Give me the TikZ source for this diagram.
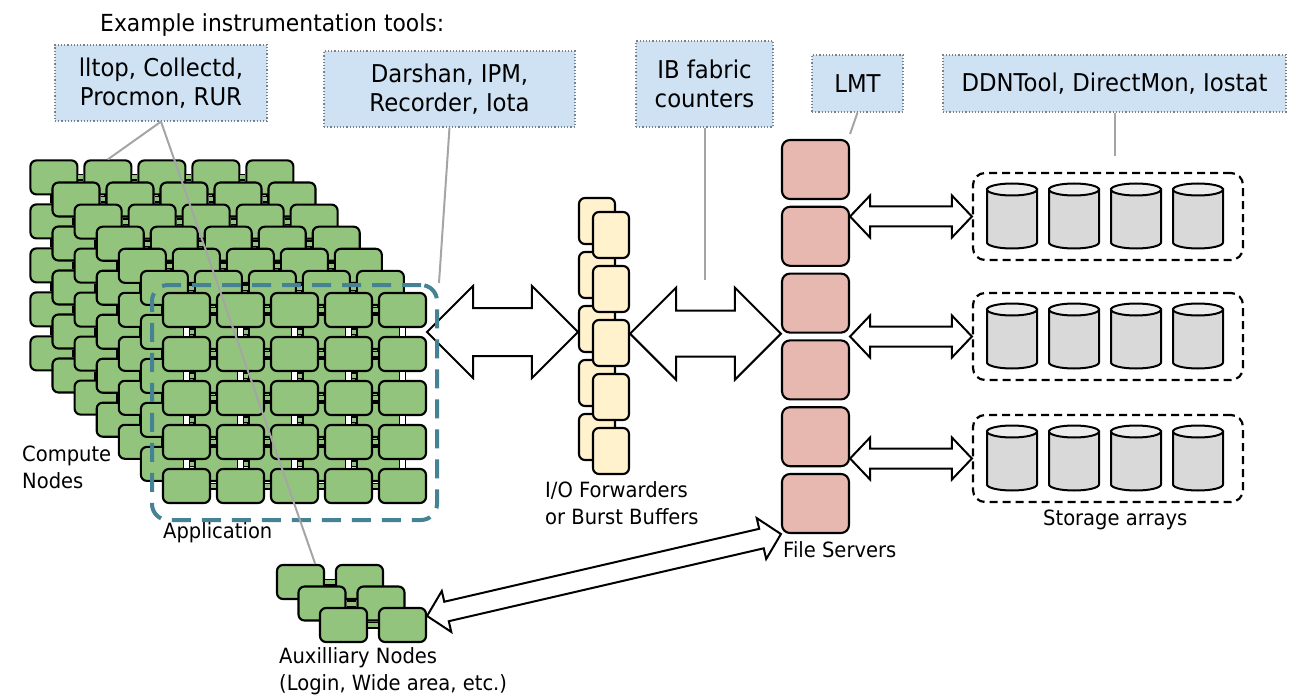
\documentclass[tikz,border=0pt]{standalone}
\usepackage{fontspec}
\setmainfont{DejaVu Sans}[FakeStretch=0.93]
\usetikzlibrary{calc, positioning}

\definecolor{nodegreen}{RGB}{147,196,125}
\definecolor{fwdyellow}{RGB}{255,242,204}
\definecolor{srvpink}{RGB}{230,184,175}
\definecolor{toolblue}{RGB}{207,226,243}
\definecolor{toolframe}{RGB}{120,128,138}
\definecolor{appteal}{RGB}{69,131,148}
\definecolor{diskgray}{RGB}{217,217,217}
\definecolor{disktop}{RGB}{236,236,236}
\definecolor{linegray}{RGB}{165,165,165}

% hollow double arrow: from, to, head length, head half width, shaft half width
\newcommand{\bigarrow}[5]{%
  \path ($(#1)!#3!(#2)$) coordinate (ha) ($(#2)!#3!(#1)$) coordinate (hb);
  \draw[hollow] (#1) -- ($(ha)!#4!90:(#2)$) -- ($(ha)!#5!90:(#2)$) -- ($(hb)!#5!-90:(#1)$)
    -- ($(hb)!#4!-90:(#1)$) -- (#2) -- ($(hb)!#4!90:(#1)$) -- ($(hb)!#5!90:(#1)$)
    -- ($(ha)!#5!-90:(#2)$) -- ($(ha)!#4!-90:(#2)$) -- cycle;}

\begin{document}
\begin{tikzpicture}[x=1pt, y=-1pt,
    every node/.style={inner sep=0pt},
    cnode/.style={draw, fill=nodegreen, line width=2.1pt, rounded corners=6pt, minimum width=47pt, minimum height=34pt},
    hlink/.style={draw=black, line width=1.5pt, double=nodegreen, double distance=4pt},
    vlink/.style={draw=black, line width=1.5pt, double=white, double distance=4.5pt},
    fnode/.style={draw, fill=fwdyellow, line width=2.1pt, rounded corners=6pt, minimum width=36pt, minimum height=46pt},
    snode/.style={draw, fill=srvpink, line width=2.1pt, rounded corners=8pt, minimum width=67pt, minimum height=59pt},
    sbox/.style={draw, line width=2.2pt, dash pattern=on 8pt off 5pt, rounded corners=12pt, minimum width=270pt, minimum height=87pt},
    disk/.style={draw, fill=diskgray, line width=2pt},
    disklid/.style={draw, fill=disktop, line width=2pt},
    appbox/.style={draw=appteal, line width=4pt, dash pattern=on 19pt off 11pt, rounded corners=16pt},
    hollow/.style={draw, fill=white, line width=2pt, line join=miter},
    tool/.style={draw=toolframe, fill=toolblue, line width=1.2pt, dotted, align=center, font=\fontsize{24.5}{29}\selectfont},
    lbl/.style={font=\fontsize{21}{26.5}\selectfont, align=left, anchor=base west},
    gline/.style={draw=linegray, line width=2pt}]

  \useasboundingbox (0,0) rectangle (1296,695);

  % compute nodes, seven layers from back to front
  \foreach \l in {0,...,6}{
    \foreach \c in {1,...,5}
      \foreach \r in {1,...,5}
        \node[cnode] (c\l-\c-\r) at ({53.9+22.1*\l+54*(\c-1)}, {177.4+22.1*\l+44*(\r-1)}) {};
    \foreach \c [count=\n from 2] in {1,...,4}
      \foreach \r in {1,...,5}
        \draw[hlink] (c\l-\c-\r) -- (c\l-\n-\r);
    \foreach \c in {1,...,5}
      \foreach \r [count=\n from 2] in {1,...,4}
        \draw[vlink] (c\l-\c-\r) -- (c\l-\c-\n);
  }

  % auxilliary nodes
  \foreach \l in {0,1,2}{
    \foreach \c in {1,2}
      \node[cnode] (aux\l-\c) at ({300.5+21.5*\l+59*(\c-1)}, {582+21.5*\l}) {};
    \draw[hlink] (aux\l-1) -- (aux\l-2);
  }

  % I/O forwarders
  \foreach \i in {1,...,5}
    \node[fnode] (fb\i) at (597, {221+54*(\i-1)}) {};
  \foreach \i in {1,...,5}
    \node[fnode] (ff\i) at (611, {235+54*(\i-1)}) {};

  % file servers
  \foreach \i in {1,...,6}
    \node[snode] (fs\i) at (815.5, {169.5+66.8*(\i-1)}) {};

  % storage arrays
  \node[sbox] (sa1) at (1108,216.5) {};
  \node[sbox] (sa2) at (1108,336.5) {};
  \node[sbox] (sa3) at (1108,458.5) {};
  \foreach \s in {1,2,3}
    \foreach \dx in {-96,-34,28,90}{
      \draw[disk] ($(sa\s)+(\dx-25,-27)$) -- ++(0,53)
        arc[start angle=180, end angle=0, x radius=25, y radius=6] -- ++(0,-53) -- cycle;
      \draw[disklid] ($(sa\s)+(\dx,-27)$) ellipse[x radius=25, y radius=6];
    }

  % arrows
  \coordinate (a1l) at ($(c6-5-1.south east)!0.5!(c6-5-2.north east)$);
  \coordinate (a1r) at (fb3.west |- a1l);
  \coordinate (a2r) at (fs3.south west);
  \coordinate (a2l) at (ff3.east |- a2r);
  \bigarrow{a1l}{a1r}{46pt}{46pt}{24pt}
  \bigarrow{a2l}{a2r}{46pt}{46pt}{23pt}
  \foreach \s in {1,2,3}{
    \coordinate (s\s l) at (fs2.east |- sa\s.west);
    \bigarrow{s\s l}{sa\s.west}{20pt}{21pt}{10pt}
  }
  \coordinate (auxtip) at ($(aux2-2.north east)!0.25!(aux2-2.south east)$);
  \bigarrow{auxtip}{fs6.south west}{20pt}{21pt}{10pt}

  % application box
  \node[appbox, minimum width=285pt, minimum height=235pt] (app) at (294.5,402.5) {};

  % tools
  \node[anchor=base west, font=\fontsize{23.5}{28}\selectfont] (title) at (100,32) {Example instrumentation tools:};
  \node[tool, minimum width=212pt, minimum height=76pt] (lltop) at (161,83) {lltop, Collectd,\\Procmon, RUR};
  \node[tool, minimum width=251pt, minimum height=76pt] (darshan) at (449.5,89) {Darshan, IPM,\\Recorder, Iota};
  \node[tool, minimum width=137pt, minimum height=86pt] (ib) at (704.5,84) {IB fabric\\counters};
  \node[tool, minimum width=91pt, minimum height=57pt] (lmt) at (857.5,83.5) {LMT};
  \node[tool, minimum width=343pt, minimum height=57pt] (ddn) at (1114.5,83.5) {DDNTool, DirectMon, Iostat};

  % labels (base = last line)
  \node[lbl] (computelbl) at (22,488) {Compute\\Nodes};
  \node[lbl] (applbl) at (163,538) {Application};
  \node[lbl] (fwdlbl) at (545,524) {I/O Forwarders\\or Burst Buffers};
  \node[lbl] (srvlbl) at (783,557) {File Servers};
  \node[lbl] (storlbl) at (1043,525) {Storage arrays};
  \node[lbl] (auxlbl) at (279,690) {Auxilliary Nodes\\(Login, Wide area, etc.)};

  % tool lines
  \coordinate (ibend) at ($(ib.south |- a2r)+(0,-54)$);
  \coordinate (lmtend) at ($(fs1.north east)+(0,-5)$);
  \coordinate (ddnend) at ($(ddn.south |- sa1.north)+(0,-16)$);
  \draw[gline] (lltop.south) -- (c0-2-1.north);
  \draw[gline] (lltop.south) -- ($(aux0-1.north)!0.6!(aux0-1.north east)$);
  \draw[gline] (darshan.south) -- (app.north east);
  \draw[gline] (ib.south) -- (ibend);
  \draw[gline] (lmt.south) -- (lmtend);
  \draw[gline] (ddn.south) -- (ddnend);
\end{tikzpicture}
\end{document}
